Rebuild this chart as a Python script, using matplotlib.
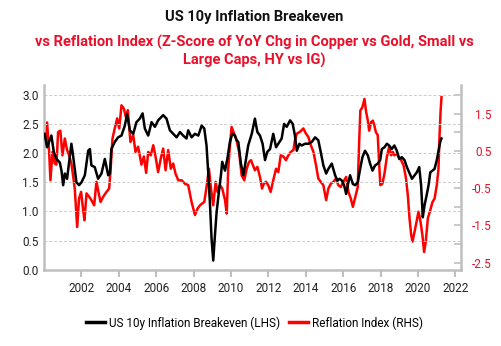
import numpy as np
import matplotlib
matplotlib.use("Agg")
import matplotlib.pyplot as plt

plt.rcParams['font.family'] = ['Roboto', 'DejaVu Sans']

# US 10y breakeven (left axis), decimal years
be_years = [2000.03, 2000.16, 2000.39, 2000.52, 2000.66, 2000.84, 2000.93, 2001.02, 2001.11, 2001.23,
            2001.37, 2001.46, 2001.55, 2001.73, 2001.87, 2002.00, 2002.18, 2002.36, 2002.45, 2002.53,
            2002.71, 2002.89, 2003.07, 2003.25, 2003.43, 2003.52, 2003.60, 2003.78, 2003.96, 2004.14,
            2004.32, 2004.44, 2004.59, 2004.77, 2004.94, 2005.12, 2005.27, 2005.39, 2005.57, 2005.75,
            2005.93, 2006.10, 2006.37, 2006.55, 2006.73, 2006.91, 2007.09, 2007.27, 2007.44, 2007.62,
            2007.71, 2007.89, 2008.07, 2008.25, 2008.43, 2008.57, 2008.69, 2008.78, 2008.87, 2008.96,
            2009.05, 2009.14, 2009.23, 2009.35, 2009.46, 2009.53, 2009.68, 2009.82, 2009.94, 2010.07,
            2010.21, 2010.30, 2010.39, 2010.53, 2010.66, 2010.75, 2010.92, 2011.11, 2011.28, 2011.41,
            2011.55, 2011.69, 2011.82, 2011.94, 2012.09, 2012.26, 2012.41, 2012.53, 2012.71, 2012.84,
            2012.98, 2013.16, 2013.30, 2013.42, 2013.52, 2013.66, 2013.78, 2013.96, 2014.14, 2014.32,
            2014.50, 2014.67, 2014.80, 2014.94, 2015.09, 2015.21, 2015.39, 2015.57, 2015.69, 2015.80,
            2015.93, 2016.05, 2016.16, 2016.28, 2016.37, 2016.52, 2016.64, 2016.78, 2016.91, 2017.03,
            2017.17, 2017.32, 2017.44, 2017.57, 2017.71, 2017.85, 2017.98, 2018.07, 2018.21, 2018.34,
            2018.46, 2018.60, 2018.74, 2018.87, 2019.00, 2019.14, 2019.28, 2019.41, 2019.53, 2019.68,
            2019.82, 2019.94, 2020.07, 2020.17, 2020.26, 2020.35, 2020.46, 2020.57, 2020.66, 2020.78,
            2020.89, 2021.01, 2021.10, 2021.19, 2021.26]
be_vals = [2.33, 2.10, 2.30, 2.02, 1.90, 1.84, 1.70, 1.45, 1.65, 1.56,
           1.93, 2.16, 1.96, 1.50, 1.45, 1.50, 1.62, 2.04, 2.07, 1.79,
           1.76, 1.56, 1.65, 1.90, 1.62, 1.65, 2.07, 2.19, 2.27, 2.30,
           2.47, 2.67, 2.39, 2.33, 2.53, 2.59, 2.68, 2.42, 2.30, 2.53,
           2.45, 2.56, 2.65, 2.59, 2.39, 2.33, 2.27, 2.36, 2.30, 2.25,
           2.39, 2.27, 2.33, 2.30, 2.47, 2.42, 2.13, 1.67, 1.16, 0.53,
           0.16, 0.59, 0.99, 1.33, 1.62, 1.85, 1.70, 1.93, 2.19, 2.33,
           2.30, 2.22, 2.19, 1.82, 1.62, 1.79, 2.13, 2.33, 2.59, 2.36,
           2.30, 2.16, 1.88, 2.02, 2.07, 2.33, 2.10, 2.16, 2.25, 2.50,
           2.45, 2.56, 2.50, 2.30, 2.04, 2.16, 2.13, 2.16, 2.16, 2.19,
           2.27, 2.22, 2.02, 1.79, 1.65, 1.73, 1.82, 1.62, 1.53, 1.56,
           1.53, 1.45, 1.30, 1.50, 1.62, 1.47, 1.45, 1.50, 1.73, 1.93,
           2.04, 1.96, 1.82, 1.70, 1.79, 1.82, 1.88, 2.07, 2.10, 2.16,
           2.13, 2.07, 2.13, 2.04, 1.90, 1.93, 1.88, 1.76, 1.67, 1.56,
           1.62, 1.67, 1.76, 1.45, 0.90, 1.10, 1.27, 1.45, 1.67, 1.70,
           1.73, 1.88, 2.04, 2.19, 2.25]

# Reflation index z-score (right axis)
ri_years = [2000.03, 2000.16, 2000.27, 2000.34, 2000.45, 2000.57, 2000.66, 2000.75, 2000.87, 2000.98,
            2001.11, 2001.23, 2001.34, 2001.46, 2001.55, 2001.64, 2001.77, 2001.87, 2001.98, 2002.09,
            2002.16, 2002.27, 2002.41, 2002.53, 2002.68, 2002.80, 2002.89, 2003.02, 2003.16, 2003.34,
            2003.48, 2003.55, 2003.66, 2003.78, 2003.91, 2004.02, 2004.14, 2004.27, 2004.37, 2004.48,
            2004.62, 2004.77, 2004.89, 2005.03, 2005.21, 2005.34, 2005.46, 2005.57, 2005.71, 2005.84,
            2005.96, 2006.10, 2006.25, 2006.37, 2006.50, 2006.64, 2006.78, 2006.91, 2007.03, 2007.18,
            2007.36, 2007.53, 2007.71, 2007.89, 2008.07, 2008.21, 2008.34, 2008.46, 2008.57, 2008.69,
            2008.82, 2008.93, 2009.05, 2009.18, 2009.28, 2009.41, 2009.53, 2009.68, 2009.77, 2009.85,
            2009.94, 2010.03, 2010.17, 2010.30, 2010.43, 2010.57, 2010.71, 2010.84, 2010.96, 2011.07,
            2011.16, 2011.28, 2011.41, 2011.55, 2011.66, 2011.76, 2011.87, 2011.99, 2012.12, 2012.26,
            2012.41, 2012.53, 2012.66, 2012.80, 2012.94, 2013.07, 2013.19, 2013.34, 2013.42, 2013.52,
            2013.69, 2013.87, 2014.01, 2014.14, 2014.27, 2014.41, 2014.55, 2014.67, 2014.80, 2014.94,
            2015.09, 2015.21, 2015.34, 2015.48, 2015.62, 2015.74, 2015.87, 2016.01, 2016.16, 2016.28,
            2016.41, 2016.52, 2016.64, 2016.78, 2016.85, 2016.92, 2017.03, 2017.14, 2017.23, 2017.32,
            2017.39, 2017.50, 2017.59, 2017.67, 2017.75, 2017.85, 2017.92, 2017.99, 2018.10, 2018.21,
            2018.34, 2018.46, 2018.57, 2018.66, 2018.74, 2018.87, 2018.96, 2019.10, 2019.23, 2019.35,
            2019.46, 2019.55, 2019.64, 2019.71, 2019.82, 2019.94, 2020.03, 2020.14, 2020.24, 2020.33,
            2020.42, 2020.53, 2020.66, 2020.78, 2020.89, 2021.01, 2021.10, 2021.15, 2021.21, 2021.26]
ri_vals = [0.65, 1.26, 0.47, -0.29, 0.47, 0.16, 0.13, 1.00, 1.04, 0.38,
           0.83, 0.52, 0.38, 0.16, -0.16, -0.51, -1.54, -0.78, -0.60, -1.09,
           -1.36, -0.64, -0.73, -0.82, -0.96, -0.33, -0.56, -0.87, -0.73, -0.60,
           -0.51, -0.07, 0.83, 1.10, 1.37, 1.10, 1.72, 1.63, 1.41, 1.59,
           0.74, 0.92, 0.47, 0.61, 0.13, 0.35, -0.09, 0.47, 0.38, 0.65,
           0.35, -0.07, 0.31, 0.56, -0.02, 0.52, 0.02, 0.16, -0.11, -0.29,
           -0.29, -0.38, -0.42, -0.87, -1.22, -1.05, -0.96, -0.91, -0.87, -0.47,
           0.02, -0.51, -0.96, -0.33, -0.60, -0.42, -0.51, -0.82, -1.18, 0.02,
           0.61, 1.14, 0.96, 0.78, 0.47, -0.16, -0.29, 0.02, 0.20, 0.25,
           0.13, -0.02, 0.07, -0.20, -0.51, -0.38, -0.33, -0.42, -0.60, -0.29,
           0.02, -0.07, 0.38, 0.35, 0.25, 0.38, 0.47, 0.52, 0.78, 0.96,
           1.01, 1.10, 0.96, 0.87, 0.65, 0.47, 0.11, -0.24, -0.33, -0.42,
           -0.82, -0.51, -0.38, -0.33, -0.24, -0.42, -0.47, -0.33, -0.20, -0.60,
           -0.78, -1.00, -0.75, -0.47, 0.65, 1.58, 1.67, 1.89, 1.54, 1.31,
           1.04, 1.27, 1.31, 1.18, 1.00, 0.92, 0.20, -0.42, -0.38, -0.11,
           0.34, 0.61, 0.38, 0.47, 0.38, 0.43, 0.34, 0.25, 0.11, -0.20,
           -0.69, -1.31, -1.76, -1.93, -1.67, -1.36, -1.13, -1.40, -1.76, -2.21,
           -1.93, -1.31, -1.09, -0.87, -0.78, -0.42, 0.02, 0.83, 1.54, 1.94]

year_ticks = list(range(2002, 2023, 2))
left_ticks = [0.0, 0.5, 1.0, 1.5, 2.0, 2.5, 3.0]
right_ticks = [-2.5, -1.5, -0.5, 0.5, 1.5]

RED = '#E8102A'
GREY = '#BFBFBF'

fig = plt.figure(figsize=(5.01, 3.46), dpi=100)
ax = fig.add_axes([0.088, 0.22, 0.832, 0.535])
ax2 = ax.twinx()

l1, = ax.plot(be_years, be_vals, color='black', lw=1.8, zorder=3)
l2, = ax2.plot(ri_years, ri_vals, color='#FF0000', lw=1.8, zorder=2)
# black line drawn on top of the red one
ax.set_zorder(ax2.get_zorder() + 1)
ax.patch.set_visible(False)

ax.set_xlim(2000.0, 2022.3)
ax.set_ylim(0, 3.17)
ax2.set_ylim(-2.69, 2.27)

ax.set_xticks(year_ticks)
ax.set_xticklabels([str(y) for y in year_ticks])
ax.set_yticks(left_ticks)
ax.set_yticklabels(['%.1f' % v for v in left_ticks])
ax2.set_yticks(right_ticks)
ax2.set_yticklabels(['%.1f' % v for v in right_ticks])
ax2.set_yticks(np.arange(-2.0, 2.01, 1.0), minor=True)

ax.yaxis.grid(True, color='#CCCCCC', ls=(0, (3, 2)), lw=0.7)
ax.set_axisbelow(True)

for a in (ax, ax2):
    for s in a.spines.values():
        s.set_color(GREY)
        s.set_linewidth(1.8)
    a.spines['top'].set_visible(False)
ax.spines['right'].set_visible(False)
ax2.spines['left'].set_visible(False)
ax2.spines['bottom'].set_visible(False)

ax.tick_params(axis='x', colors=GREY, length=5, width=1.5, labelcolor='#222222',
               labelsize=8.5, pad=4)
ax.tick_params(axis='y', length=0, labelcolor='#222222', labelsize=8.5, pad=4)
ax2.tick_params(axis='y', which='both', direction='in', colors=GREY, length=5, width=1.2,
                labelcolor=RED, labelsize=8.5, pad=22)
for t in ax2.get_yticklabels():
    t.set_horizontalalignment('right')

fig.text(0.507, 0.95, 'US 10y Inflation Breakeven', ha='center', va='center',
         fontsize=10.5, fontweight='bold', color='#111111')
fig.text(0.507, 0.85, 'vs Reflation Index (Z-Score of YoY Chg in Copper vs Gold, Small vs\nLarge Caps, HY vs IG)',
         ha='center', va='center', fontsize=10.5, fontweight='bold', color=RED,
         linespacing=1.25)

fig.legend([l1, l2], ['US 10y Inflation Breakeven (LHS)', 'Reflation Index (RHS)'],
           loc='center', bbox_to_anchor=(0.508, 0.067), ncol=2, frameon=False,
           fontsize=8.5, handlelength=1.6, handletextpad=0.3, columnspacing=0.8)
for h in fig.legends[0].get_lines():
    h.set_linewidth(2.5)

fig.savefig('out.png', dpi=100)
